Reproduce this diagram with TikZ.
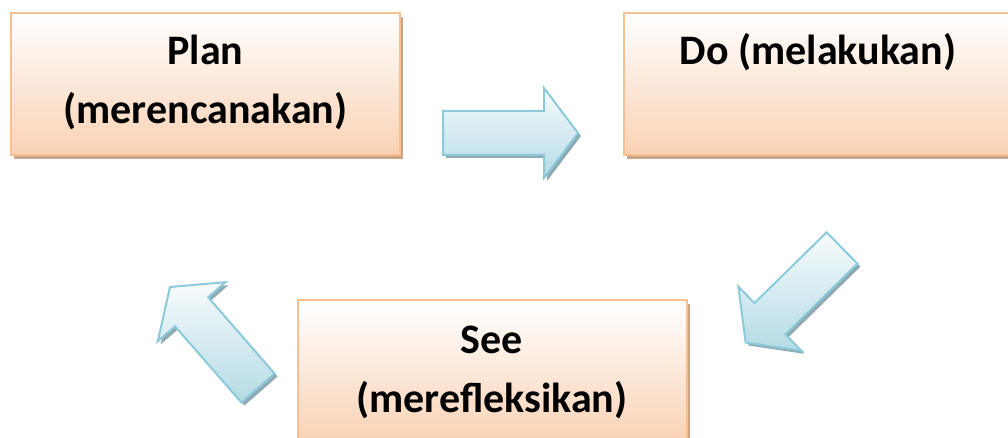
\documentclass[tikz,border=0pt]{standalone}
\usepackage{fontspec}
\setmainfont{Carlito}
\definecolor{boxline}{HTML}{F9BF8F}
\definecolor{boxbot}{HTML}{FAD2B4}
\definecolor{boxmid}{HTML}{FDEDE2}
\definecolor{boxshadow}{HTML}{C9A486}
\definecolor{arrline}{HTML}{8CCAD9}
\definecolor{arrtop}{HTML}{F7FBFD}
\definecolor{arrbot}{HTML}{B4DBE5}
\definecolor{arrshadow}{HTML}{8FA9B2}
\begin{document}
\begin{tikzpicture}[x=1pt,y=-1pt,
  boxshape/.style={draw=boxline, line width=2pt, top color=white, middle color=boxmid, bottom color=boxbot,
    minimum width=389pt, minimum height=142pt, inner sep=0pt, outer sep=0pt},
  boxshad/.style={fill=boxshadow, minimum width=389pt, minimum height=142pt, inner sep=0pt, outer sep=0pt},
  boxtext/.style={font=\fontsize{42}{50}\selectfont\bfseries, anchor=base, inner sep=0pt},
  blockarrow/.style={draw=arrline, line width=2pt, line join=miter, top color=arrtop, bottom color=arrbot},
  arrshad/.style={fill=arrshadow}]
\useasboundingbox (0,0) rectangle (1008,438);

% box shadows
\node[boxshad] (planshadow) at (208.5,88) {};
\node[boxshad] (doshadow) at (821,88) {};
\node[boxshad] (seeshadow) at (495,375) {};

% boxes
\node[boxshape] (plan) at (205.5,84) {};
\node[boxshape] (do) at (818,84) {};
\node[boxshape] (see) at (492,371) {};

% texts
\node[boxtext] (plantitle) at (205.5,65) {Plan};
\node[boxtext] (plansub) at (205.5,124) {(merencanakan)};
\node[boxtext] (dotitle) at (818,65) {Do (melakukan)};
\node[boxtext] (seetitle) at (492,353) {See};
\node[boxtext] (seesub) at (492,412) {(merefleksikan)};

% arrow shadows
\path[arrshad, shift={(3,3)}] (443,111) -- (544,111) -- (544,88) -- (578,133) -- (544,178) -- (544,155) -- (443,155) -- cycle;
\path[arrshad, shift={(3,3)}] (826.6,232.3) -- (754.5,303.0) -- (738.4,286.6) -- (745.6,342.5) -- (801.4,350.8) -- (785.3,334.4) -- (857.4,263.7) -- cycle;
\path[arrshad, shift={(3,3)}] (274.6,373.5) -- (208.2,297.3) -- (225.5,282.2) -- (170,287) -- (157.7,341.4) -- (175.0,326.3) -- (241.4,402.5) -- cycle;

% block arrows
\path[blockarrow] (443,111) -- (544,111) -- (544,88) -- (578,133) -- (544,178) -- (544,155) -- (443,155) -- cycle;
\path[blockarrow] (826.6,232.3) -- (754.5,303.0) -- (738.4,286.6) -- (745.6,342.5) -- (801.4,350.8) -- (785.3,334.4) -- (857.4,263.7) -- cycle;
\path[blockarrow] (274.6,373.5) -- (208.2,297.3) -- (225.5,282.2) -- (170,287) -- (157.7,341.4) -- (175.0,326.3) -- (241.4,402.5) -- cycle;
\end{tikzpicture}
\end{document}
